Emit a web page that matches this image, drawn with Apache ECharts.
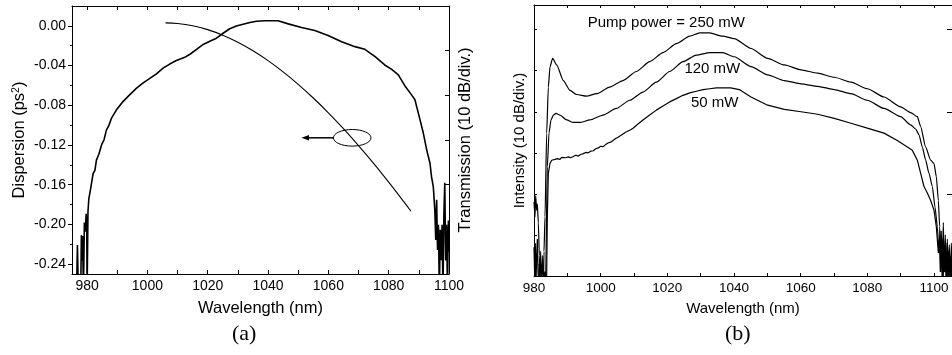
<!DOCTYPE html>
<html><head><meta charset="utf-8">
<script src="https://cdn.jsdelivr.net/npm/echarts@6/dist/echarts.min.js"></script>
<style>html,body{margin:0;padding:0;background:#fff}#c{width:952px;height:355px}</style>
</head><body><div id="c"></div>
<script>
const FONT = '"Liberation Sans", Arial, sans-serif';

// ---------- Panel (a) ----------
const aXTicks = [980,990,1000,1010,1020,1030,1040,1050,1060,1070,1080,1090,1100];
const aXLabels = [980,1000,1020,1040,1060,1080,1100];
const aYMajor = [-0.24,-0.20,-0.16,-0.12,-0.08,-0.04,0.00];
const aYMinor = [-0.22,-0.18,-0.14,-0.10,-0.06,-0.02];
const aRightTicks = [-50,-40,-30,-20,-10];

// Transmission (dB, right axis)
const transLambda = [976.5,976.8,977.1,977.9,978.1,978.3,978.5,978.8,979.1,979.4,979.7,979.9,980.0,980.3,980.6,980.9,981.4,982.0,982.6,983.1,983.9,984.8,985.6,986.4,987.2,988.1,989.7,991.9,994.1,996.4,998.6,1000.8,1003.0,1005.2,1007.4,1009.6,1012.4,1014.1,1016.3,1018.5,1020.7,1022.9,1025.1,1027.3,1029.5,1031.7,1034.0,1036.2,1038.9,1043.3,1046.7,1051.1,1055.5,1059.9,1064.4,1068.8,1072.1,1075.4,1078.7,1081.0,1083.2,1085.4,1087.6,1088.7,1090.4,1091.5,1092.6,1093.7,1094.2,1094.8,1095.3,1095.6,1095.9,1096.2,1096.5,1096.8,1097.1,1097.4,1097.7,1098.0,1098.3,1098.6,1098.9,1099.2,1099.5,1099.8,1100.0];
const transDb = [-64,-53.5,-64,-64,-51.3,-57,-51.5,-64,-48.5,-50.5,-46.5,-50,-64,-46.0,-43.0,-42.0,-40.0,-37.5,-36.8,-34.5,-33.2,-31.1,-30.0,-27.8,-26.8,-25.1,-23.3,-21.4,-19.9,-18.4,-17.2,-16.2,-15.2,-13.9,-13.0,-12.2,-11.5,-10.8,-9.7,-8.6,-7.9,-7.2,-6.1,-5.1,-4.5,-4.1,-3.7,-3.4,-3.3,-3.3,-4.0,-4.8,-5.5,-6.6,-8.0,-9.1,-9.7,-11.3,-13.2,-14.2,-15.4,-17.9,-19.9,-21.0,-25.5,-28.5,-32.2,-35.2,-38.2,-40.5,-45.7,-52.4,-43.4,-54.6,-49.0,-64,-50.1,-56.9,-49.0,-64,-46.8,-39.6,-57.0,-49.0,-64,-48.0,-55];

// Dispersion (ps^2, left axis)
const dispLambda = [1006.0,1010.0,1015.0,1020.0,1025.0,1030.0,1035.0,1040.0,1045.0,1050.0,1055.0,1060.0,1065.0,1070.0,1075.0,1080.0,1085.0,1087.4];
const dispVal = [0.0030,0.0024,0.0001,-0.0038,-0.0094,-0.0165,-0.0251,-0.0350,-0.0463,-0.0589,-0.0727,-0.0876,-0.1036,-0.1207,-0.1386,-0.1575,-0.1771,-0.1868];

// ---------- Panel (b) ----------
const bXTicks = [980,990,1000,1010,1020,1030,1040,1050,1060,1070,1080,1090,1100];
const bXLabels = [980,1000,1020,1040,1060,1080,1100];
const bLeftTicks = [5,10,15,20,25,30];
const bRightTicks = [10,20,30];

const p250Lambda = [980.0,980.3,980.5,980.8,981.0,981.3,981.6,981.9,982.8,983.0,983.3,983.8,984.3,984.8,985.6,986.8,988.8,990.8,992.8,995.8,998.8,1002.7,1006.7,1010.7,1014.7,1018.7,1022.7,1026.7,1029.7,1032.7,1036.6,1040.1,1045.1,1050.1,1055.1,1060.1,1065.1,1070.1,1075.1,1080.0,1085.0,1090.0,1093.0,1095.0,1096.0,1097.5,1099.0,1100.0,1100.7,1101.3,1101.7,1102.0,1102.2,1102.5,1102.8,1103.1,1103.4,1103.7,1104.0,1104.3,1104.6,1104.9,1105.2,1105.5];
const p250Db = [9.0,7.2,9.8,8.0,8.8,6.5,2.5,-2,-2,3,7.2,17.4,23.0,25.5,26.5,25.7,23.8,22.6,22.1,21.9,22.2,23.0,23.8,24.9,26.1,27.2,28.3,29.2,29.6,29.6,29.2,28.9,27.7,26.5,25.7,25.1,24.7,24.2,23.6,22.8,21.8,20.6,19.9,19.4,18.2,15.7,14.1,13.7,12.1,9.2,6.0,2.0,5.5,1.0,6.5,0.5,5.0,-1,4.5,0.5,3.8,-1,4.0,1.0];

const p120Lambda = [980.0,981.4,981.5,981.7,982.0,982.3,982.6,982.9,983.2,983.5,984.0,984.5,985.1,985.8,986.6,987.8,989.8,991.8,993.8,996.8,1000.7,1004.7,1008.7,1012.7,1016.7,1020.7,1024.7,1028.7,1032.7,1036.6,1040.1,1045.1,1050.1,1055.1,1060.1,1065.1,1070.1,1075.1,1080.0,1085.0,1090.0,1093.0,1094.5,1095.5,1096.5,1097.5,1098.5,1099.5,1100.3,1101.0,1101.5,1101.8,1102.1,1102.4,1102.7,1103.0,1103.3,1103.6,1103.9,1104.2,1104.5,1104.8,1105.1,1105.5];
const p120Db = [-2,-2,1.5,-1,3,-1,2.5,-1,0.5,0,13.3,17.4,19.0,19.6,19.8,19.6,19.0,18.7,18.7,19.0,19.6,20.4,21.4,22.4,23.6,24.9,26.1,26.9,27.2,27.2,26.7,25.5,24.5,23.8,23.4,23.1,22.7,22.2,21.4,20.4,19.4,18.4,17.9,17.2,15.7,14.1,12.5,10.9,8.4,6.0,2.8,5.5,0.5,4.5,-1,3.5,0.5,4.0,-1,3.0,0,2.5,-1,2.0];

const p50Lambda = [980.0,980.2,980.4,980.6,980.8,981.0,981.2,981.5,983.5,983.8,984.0,984.3,984.8,985.3,985.8,986.3,987.0,987.4,987.8,988.3,988.8,989.5,990.3,991.0,991.4,991.8,992.5,993.3,994.0,994.8,995.5,996.3,997.0,997.4,997.8,998.5,999.3,1000.0,1000.7,1001.5,1002.2,1002.6,1003.0,1003.7,1004.5,1005.2,1006.0,1006.7,1007.5,1008.2,1009.0,1009.7,1011.2,1012.7,1014.7,1016.7,1018.7,1020.7,1022.7,1024.7,1026.7,1028.7,1030.7,1032.7,1034.7,1036.6,1039.0,1041.6,1045.1,1050.1,1055.1,1060.1,1065.1,1070.1,1075.1,1080.0,1085.0,1089.0,1092.0,1093.5,1095.0,1096.0,1097.0,1098.0,1099.0,1100.0,1100.7,1101.3,1101.6,1101.9,1102.2,1102.5,1102.8,1103.1,1103.4,1103.7,1104.0,1104.3,1104.6,1104.9,1105.2,1105.5];
const p50Db = [3.5,0,4.0,-1,2.5,4.5,0.5,-1,-1,0,7.2,12.5,13.7,14.1,14.3,14.2,14.3,14.1,14.2,14.45,14.3,14.4,14.5,14.4,14.6,14.55,14.7,14.6,14.8,14.9,15.05,15.0,15.2,15.35,15.25,15.5,15.6,15.8,15.75,16.0,16.2,16.05,16.3,16.5,16.75,16.9,17.1,17.3,17.5,17.65,17.8,18.0,18.5,19.0,19.6,20.2,20.7,21.2,21.6,22.0,22.3,22.5,22.7,22.8,22.9,22.9,22.9,22.7,21.8,20.8,20.3,20.0,19.7,19.2,18.6,18.0,17.4,16.5,15.7,15.3,14.1,12.5,10.9,10.1,9.2,8.0,6.0,2.8,4.5,0.5,3.5,-1,3.0,0.5,2.5,-1,3.0,0,2.0,-1,2.5,0.5];

function zip(a, b) { return a.map((v, i) => [v, b[i]]); }

const black = '#000';
const axLine = { show: true, onZero: false, lineStyle: { color: black, width: 1 } };
const plain = v => String(v);

const chart = echarts.init(document.getElementById('c'), null, { renderer: 'canvas' });

const option = {
  animation: false,
  backgroundColor: '#fff',
  textStyle: { fontFamily: FONT, color: black },
  grid: [
    { left: 72, top: 6, width: 377, height: 268, containLabel: false },
    { left: 534, top: 5, width: 419, height: 271, containLabel: false }
  ],
  xAxis: [
    { gridIndex: 0, type: 'value', position: 'bottom', min: 975, max: 1100,
      axisLine: axLine, splitLine: { show: false },
      axisTick: { inside: true, length: 4, customValues: aXTicks, lineStyle: { color: black } },
      axisLabel: { customValues: aXLabels, fontSize: 14, color: black, margin: 5, fontFamily: FONT, formatter: plain },
      name: 'Wavelength (nm)', nameLocation: 'middle', nameGap: 26,
      nameTextStyle: { fontSize: 16.5, color: black, fontFamily: FONT } },
    { gridIndex: 0, type: 'value', position: 'top', min: 975, max: 1100,
      axisLine: axLine, splitLine: { show: false },
      axisTick: { inside: true, length: 4, customValues: aXTicks, lineStyle: { color: black } },
      axisLabel: { show: false } },
    { gridIndex: 1, type: 'value', position: 'bottom', min: 980, max: 1105.4,
      axisLine: axLine, splitLine: { show: false },
      axisTick: { inside: true, length: 3, customValues: bXTicks, lineStyle: { color: black } },
      axisLabel: { customValues: bXLabels, fontSize: 13.5, color: black, margin: 5, fontFamily: FONT, formatter: plain },
      name: 'Wavelength (nm)', nameLocation: 'middle', nameGap: 25,
      nameTextStyle: { fontSize: 15, color: black, fontFamily: FONT } },
    { gridIndex: 1, type: 'value', position: 'top', min: 980, max: 1105.4,
      axisLine: axLine, splitLine: { show: false },
      axisTick: { inside: true, length: 3, customValues: bXTicks, lineStyle: { color: black } },
      axisLabel: { show: false } }
  ],
  yAxis: [
    { gridIndex: 0, type: 'value', position: 'left', min: -0.25, max: 0.02,
      axisLine: axLine, splitLine: { show: false },
      axisTick: { inside: false, length: 4, customValues: aYMajor, lineStyle: { color: black } },
      axisLabel: { customValues: aYMajor, fontSize: 14, color: black, margin: 6, fontFamily: FONT,
        formatter: v => v.toFixed(2) },
      name: 'Dispersion (ps{sup|2})', nameLocation: 'middle', nameRotate: 90, nameGap: 44,
      nameTextStyle: { fontSize: 16.5, color: black, fontFamily: FONT,
        rich: { sup: { fontSize: 10.5, verticalAlign: 'top', lineHeight: 10, fontFamily: FONT, color: black } } } },
    { gridIndex: 0, type: 'value', position: 'left', min: -0.25, max: 0.02,
      axisLine: { show: false, onZero: false }, splitLine: { show: false },
      axisTick: { inside: false, length: 2, customValues: aYMinor, lineStyle: { color: black } },
      axisLabel: { show: false } },
    { gridIndex: 0, type: 'value', position: 'right', min: -60, max: 0,
      axisLine: axLine, splitLine: { show: false },
      axisTick: { inside: true, length: 4, customValues: aRightTicks, lineStyle: { color: black } },
      axisLabel: { show: false },
      name: 'Transmission (10 dB/div.)', nameLocation: 'middle', nameRotate: 90, nameGap: 8,
      nameTextStyle: { fontSize: 16.5, color: black, fontFamily: FONT } },
    { gridIndex: 1, type: 'value', position: 'left', min: 0, max: 33,
      axisLine: axLine, splitLine: { show: false },
      axisTick: { inside: true, length: 3, customValues: bLeftTicks, lineStyle: { color: black } },
      axisLabel: { show: false },
      name: 'Intensity (10 dB/div.)', nameLocation: 'middle', nameRotate: 90, nameGap: 7,
      nameTextStyle: { fontSize: 15, color: black, fontFamily: FONT } },
    { gridIndex: 1, type: 'value', position: 'right', min: 0, max: 33,
      axisLine: axLine, splitLine: { show: false },
      axisTick: { inside: true, length: 5, customValues: bRightTicks, lineStyle: { color: black } },
      axisLabel: { show: false } }
  ],
  series: [
    { type: 'line', xAxisIndex: 0, yAxisIndex: 2, data: zip(transLambda, transDb), showSymbol: false,
      lineStyle: { color: black, width: 1.6 }, clip: true, silent: true },
    { type: 'line', xAxisIndex: 0, yAxisIndex: 0, data: zip(dispLambda, dispVal), showSymbol: false,
      smooth: 0.4,
      lineStyle: { color: black, width: 1.1 }, clip: true, silent: true },
    { type: 'line', xAxisIndex: 2, yAxisIndex: 3, data: zip(p250Lambda, p250Db), showSymbol: false,
      smooth: 0.2, smoothMonotone: 'x', lineStyle: { color: black, width: 1.2 }, clip: true, silent: true },
    { type: 'line', xAxisIndex: 2, yAxisIndex: 3, data: zip(p120Lambda, p120Db), showSymbol: false,
      smooth: 0.2, smoothMonotone: 'x', lineStyle: { color: black, width: 1.2 }, clip: true, silent: true },
    { type: 'line', xAxisIndex: 2, yAxisIndex: 3, data: zip(p50Lambda, p50Db), showSymbol: false,
      lineStyle: { color: black, width: 1.2 }, clip: true, silent: true }
  ]
};
chart.setOption(option);

// annotations placed in data space
const ellA = [1067.9, -0.1128];
const arrowTipA = 1051.1;
const bNotes = [
  { text: 'Pump power = 250 mW', at: [1019.7, 30.8] },
  { text: '120 mW', at: [1033.5, 25.2] },
  { text: '50 mW', at: [1034.2, 21.1] }
];
const ec = chart.convertToPixel({ xAxisIndex: 0, yAxisIndex: 0 }, ellA);
const tip = chart.convertToPixel({ xAxisIndex: 0, yAxisIndex: 0 }, [arrowTipA, ellA[1]]);
const rx = 18.8, ry = 8.3;
const graphics = [
  { type: 'ellipse', shape: { cx: ec[0], cy: ec[1], rx: rx, ry: ry },
    style: { fill: 'none', stroke: black, lineWidth: 1 }, z: 100 },
  { type: 'line', shape: { x1: ec[0] - rx, y1: ec[1], x2: tip[0] + 6, y2: ec[1] },
    style: { stroke: black, lineWidth: 1.5 }, z: 100 },
  { type: 'polygon', shape: { points: [[tip[0], tip[1]], [tip[0] + 7.5, tip[1] - 2.8], [tip[0] + 7.5, tip[1] + 2.8]] },
    style: { fill: black }, z: 100 }
];
bNotes.forEach(n => {
  const p = chart.convertToPixel({ xAxisIndex: 2, yAxisIndex: 3 }, n.at);
  graphics.push({ type: 'text', x: p[0], y: p[1],
    style: { text: n.text, font: '15px ' + FONT, fill: black, align: 'center', verticalAlign: 'middle' }, z: 100 });
});
graphics.push({ type: 'text', left: 232, top: 323,
  style: { text: '(a)', font: '22px "Liberation Serif", "Times New Roman", serif', fill: black }, z: 100 });
graphics.push({ type: 'text', left: 725, top: 323,
  style: { text: '(b)', font: '22px "Liberation Serif", "Times New Roman", serif', fill: black }, z: 100 });
chart.setOption({ graphic: graphics });
</script>
</body></html>
